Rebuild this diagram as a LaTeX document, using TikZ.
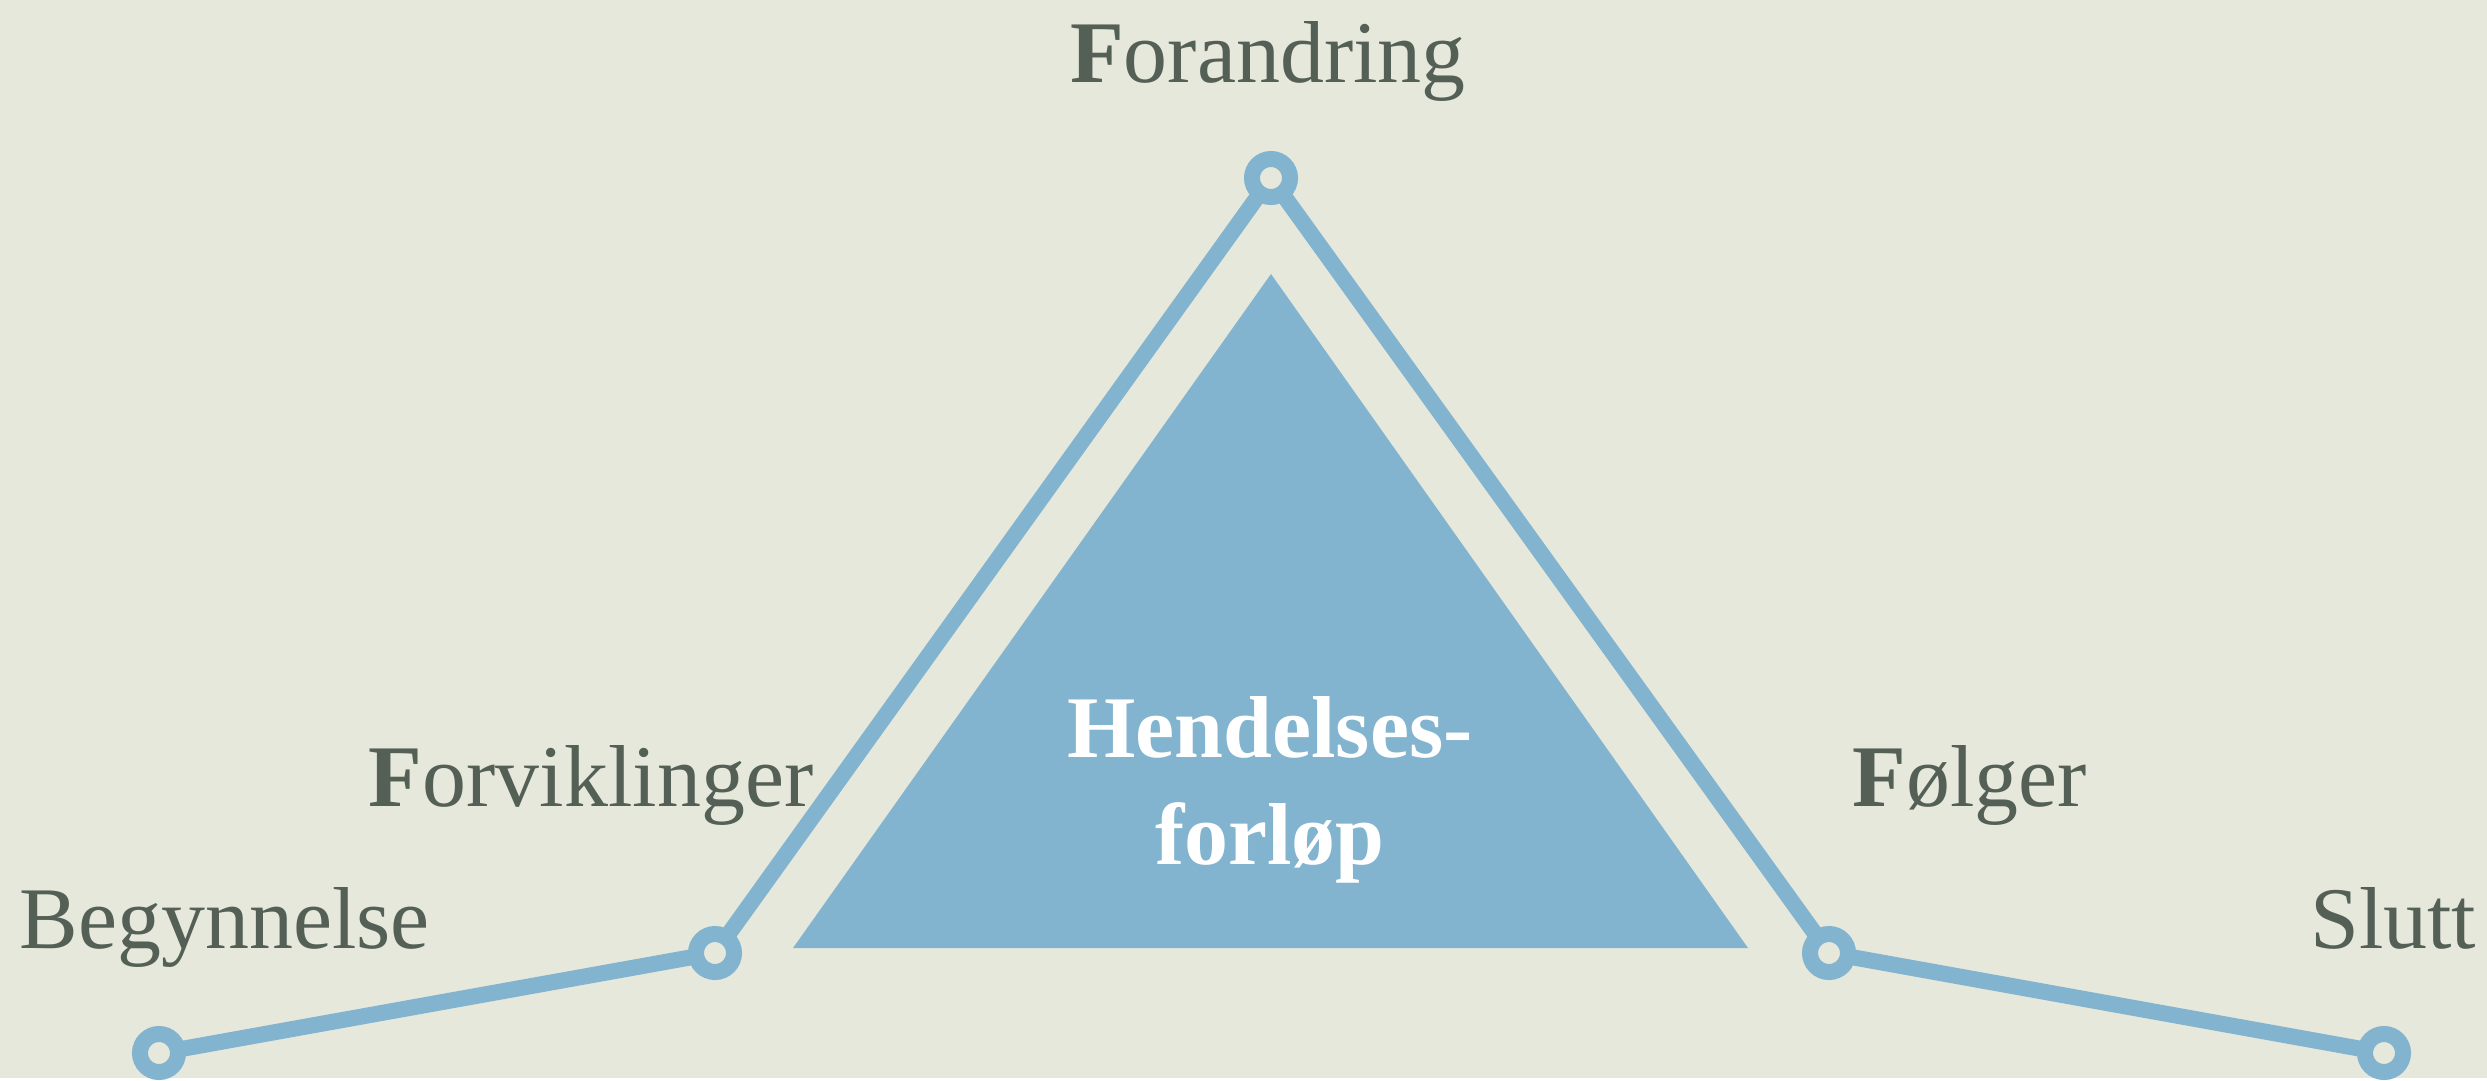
\documentclass[tikz,border=0pt]{standalone}
\usepackage{fontspec}
\setmainfont{Liberation Serif}
\usetikzlibrary{positioning}
\definecolor{paper}{RGB}{230,232,220}
\definecolor{plotblue}{RGB}{130,180,207}
\definecolor{ink}{RGB}{84,96,86}

\begin{document}
\begin{tikzpicture}[x=0.01cm, y=-0.01cm,
    dot/.style={circle, draw=plotblue, line width=0.16cm, fill=paper,
        minimum size=0.38cm, inner sep=0pt, outer sep=0pt},
    lbl/.style={text=ink, inner sep=0pt, font=\fontsize{25}{30}\selectfont},
    link/.style={draw=plotblue, line width=0.16cm}]
    \fill[paper] (0,0) rectangle (2487,1078);

    % inner triangle
    \fill[plotblue] (1271,274) -- (793,948) -- (1748,948) -- cycle;
    \node[align=center, text=white, inner sep=0pt,
        font=\bfseries\fontsize{25}{30.5}\selectfont] (plot) at (1270,790)
        {Hendelses-\\forløp};

    \node[dot] (beg) at (159,1053) {};
    \node[dot] (forv) at (715,953) {};
    \node[dot] (foran) at (1271,178) {};
    \node[dot] (folg) at (1829,953) {};
    \node[dot] (slutt) at (2384,1053) {};

    \draw[link] (beg) -- (forv);
    \draw[link] (forv) -- (foran);
    \draw[link] (foran) -- (folg);
    \draw[link] (folg) -- (slutt);

    \node[lbl, anchor=base] (foranlbl) at (1268,82) {\textbf{F}orandring};
    \node[lbl, anchor=base east] (forvlbl) at (814,806) {\textbf{F}orviklinger};
    \node[lbl, anchor=base west] (beglbl) at (19,948) {Begynnelse};
    \node[lbl, anchor=base west] (folglbl) at (1852,806) {\textbf{F}ølger};
    \node[lbl, anchor=base east] (sluttlbl) at (2477,948) {Slutt};
\end{tikzpicture}
\end{document}
